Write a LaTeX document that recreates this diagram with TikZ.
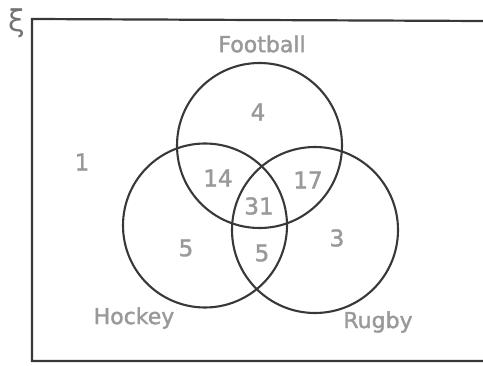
\documentclass[tikz,border=0pt]{standalone}
\usepackage{fontspec}
\setmainfont{DejaVu Sans}[BoldFont=DejaVu Sans,BoldFeatures={FakeBold=1.6}]
\begin{document}
\begin{tikzpicture}[x=1pt,y=-1pt,
  setline/.style={draw=black!78,line width=2.1pt},
  lab/.style={text=black!40,font=\bfseries\fontsize{22}{24}\selectfont,inner sep=0pt},
  num/.style={text=black!40,font=\bfseries\fontsize{23}{25}\selectfont,inner sep=0pt}]
\useasboundingbox (0,0) rectangle (483,366);
\coordinate (ur) at (483,21);
\coordinate (ul) at (32,19);
\coordinate (ll) at (32,361);
\coordinate (lr) at (483,361);
\draw[setline,line width=2.2pt] (ur) -- (ul) -- (ll) -- (lr);
\node[text=black!55,font=\fontsize{30}{32}\selectfont,inner sep=0pt] (xi) at (17,23) {ξ};
\node[setline,circle,minimum size=165pt,inner sep=0pt] (F) at (259.5,145.5) {};
\node[setline,circle,minimum size=164pt,inner sep=0pt] (H) at (205,225.5) {};
\node[setline,circle,minimum size=166pt,inner sep=0pt] (R) at (315,230) {};
\node[lab] (lF) at (262,44) {Football};
\node[lab] (lH) at (134,318) {Hockey};
\node[lab] (lR) at (378,322) {Rugby};
\node[num] (n1) at (82,162) {1};
\node[num] (n4) at (258,112) {4};
\node[num] (n14) at (218,178) {14};
\node[num] (n17) at (308,180) {17};
\node[num] (n31) at (259,206) {31};
\node[num] (n5a) at (186,248) {5};
\node[num] (n5b) at (262,253) {5};
\node[num] (n3) at (337,238) {3};
\end{tikzpicture}
\end{document}
